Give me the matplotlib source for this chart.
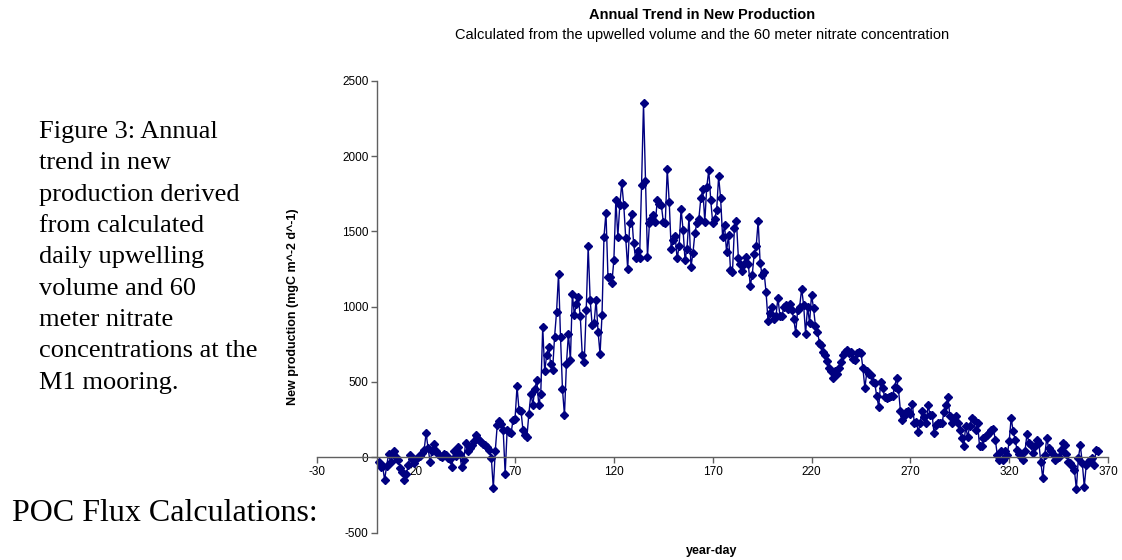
import numpy as np
import matplotlib
matplotlib.use('Agg')
import matplotlib.pyplot as plt

# daily new production (mgC m^-2 d^-1), year-day 1..365
new_prod = [
    -30, -65, -60, -150, -60, 20, -30, 20, 40, 0,
    -20, -70, -100, -150, -110, -50, 15, -10, -40, -10,
    0, 10, 30, 50, 160, 60, -30, 40, 90, 40,
    25, 10, 5, 20, 15, -5, -10, -65, 40, 10,
    70, 20, -65, -20, 95, 40, 60, 80, 110, 150,
    130, 115, 100, 90, 80, 70, 50, -5, -205, 45,
    215, 240, 220, 180, -110, 180, 170, 160, 250, 255,
    470, 315, 310, 180, 150, 135, 290, 420, 350, 450,
    515, 345, 420, 865, 570, 680, 735, 620, 580, 800,
    965, 1220, 800, 450, 280, 620, 820, 645, 1085, 945,
    1020, 1065, 935, 680, 635, 975, 1400, 1045, 880, 890,
    1045, 835, 685, 945, 1465, 1625, 1200, 1195, 1160, 1310,
    1710, 1465, 1675, 1820, 1675, 1455, 1250, 1555, 1615, 1420,
    1320, 1370, 1320, 1805, 2350, 1835, 1330, 1555, 1585, 1610,
    1565, 1710, 1680, 1675, 1565, 1555, 1915, 1695, 1380, 1440,
    1470, 1320, 1400, 1650, 1510, 1310, 1385, 1595, 1265, 1355,
    1490, 1555, 1585, 1720, 1780, 1565, 1795, 1905, 1710, 1555,
    1585, 1640, 1865, 1720, 1465, 1540, 1365, 1475, 1245, 1230,
    1525, 1570, 1320, 1285, 1235, 1285, 1330, 1285, 1140, 1210,
    1350, 1400, 1570, 1290, 1210, 1230, 1095, 905, 955, 1000,
    920, 935, 1060, 940, 935, 1000, 1010, 985, 1020, 980,
    920, 825, 980, 1000, 1120, 1010, 820, 1000, 890, 1080,
    990, 870, 835, 760, 745, 700, 680, 640, 590, 570,
    525, 570, 555, 590, 630, 680, 700, 710, 690, 700,
    650, 645, 690, 700, 695, 590, 460, 570, 555, 545,
    500, 490, 405, 335, 500, 460, 400, 395, 400, 405,
    410, 465, 525, 450, 305, 250, 275, 300, 310, 290,
    355, 230, 235, 170, 230, 310, 270, 225, 345, 280,
    280, 160, 215, 230, 230, 225, 300, 345, 400, 275,
    230, 260, 275, 225, 180, 125, 75, 205, 135, 205,
    260, 245, 180, 225, 75, 75, 125, 135, 150, 160,
    180, 190, 115, 15, -15, 40, -20, 40, 15, 105,
    260, 175, 115, 50, 25, 5, -20, 40, 155, 95,
    80, 30, 75, 115, 95, -30, -140, 15, 125, 60,
    40, 25, -20, -5, 0, 50, 95, 80, 25, -30,
    -35, -60, -85, -210, -5, 80, -40, -195, -50, -30,
    -20, -5, -50, 50, 45,
]
year_day = np.arange(1, len(new_prod) + 1)

x_ticks = [-30, 20, 70, 120, 170, 220, 270, 320, 370]
y_ticks = [-500, 0, 500, 1000, 1500, 2000, 2500]

caption = ("Figure 3: Annual\ntrend in new\nproduction derived\nfrom calculated\n"
           "daily upwelling\nvolume and 60\nmeter nitrate\nconcentrations at the\nM1 mooring.")

plt.rcParams['axes.unicode_minus'] = False

W, H = 1122, 560
fig = plt.figure(figsize=(W / 100, H / 100), dpi=100)
ax = fig.add_axes([317.4 / W, 1 - 532.6 / H, (1108 - 317.4) / W, (532.6 - 80.7) / H])

ax.plot(year_day, new_prod, color='#000080', lw=1.0, marker='D', ms=3.6,
        mfc='#000080', mec='#000080', clip_on=False)

ax.set_xlim(-30, 370)
ax.set_ylim(-500, 2500)
ax.set_xticks(x_ticks)
ax.set_yticks(y_ticks)

sans = 'Liberation Sans'
for s in ['top', 'right']:
    ax.spines[s].set_visible(False)
ax.spines['left'].set_position(('data', 0))
ax.spines['bottom'].set_position(('data', 0))
for s in ['left', 'bottom']:
    ax.spines[s].set_color('#606060')
    ax.spines[s].set_linewidth(1.0)
ax.tick_params(direction='out', length=4, width=1, color='#606060',
               labelsize=8.5, pad=2)
for lbl in ax.get_xticklabels() + ax.get_yticklabels():
    lbl.set_fontfamily(sans)
ax.set_facecolor('none')

fig.text(702 / W, 1 - 15 / H, 'Annual Trend in New Production', ha='center', va='center',
         fontsize=10.5, fontweight='bold', family=sans)
fig.text(702 / W, 1 - 35 / H,
         'Calculated from the upwelled volume and the 60 meter nitrate concentration',
         ha='center', va='center', fontsize=10.5, family=sans)
fig.text(293 / W, 1 - 307 / H, 'New production (mgC m^-2 d^-1)', rotation=90,
         ha='center', va='center', fontsize=9, fontweight='bold', family=sans)
fig.text(712 / W, 1 - 551 / H, 'year-day', ha='center', va='center',
         fontsize=9, fontweight='bold', family=sans)

fig.text(39 / W, 1 - 121 / H, caption, ha='left', va='top', fontsize=19,
         family='Liberation Serif', linespacing=1.55)
fig.text(12 / W, 1 - 521 / H, 'POC Flux Calculations:', ha='left', va='baseline',
         fontsize=23, family='Liberation Serif')

fig.savefig('out.png', dpi=100)
